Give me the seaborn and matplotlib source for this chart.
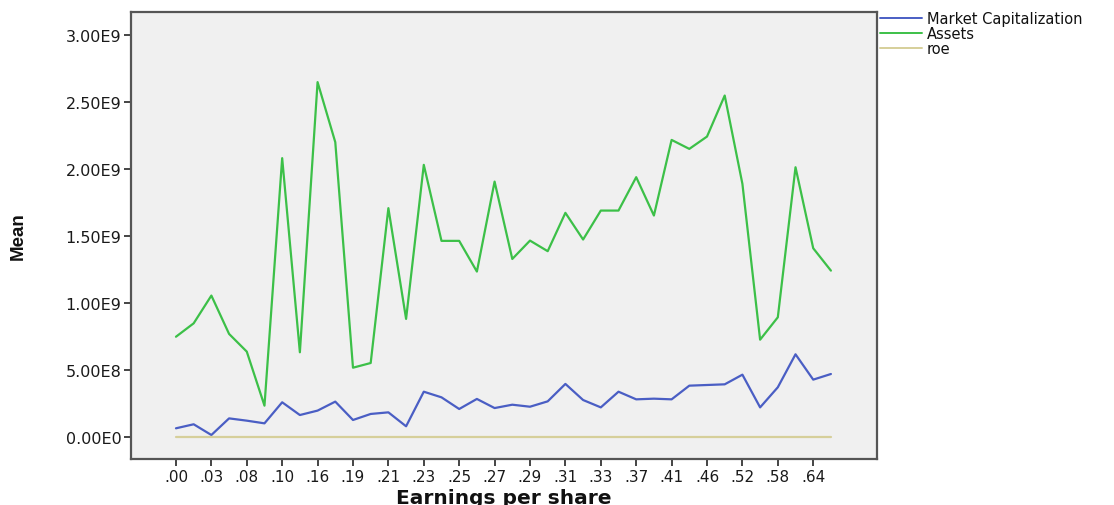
import matplotlib
matplotlib.use("Agg")
import matplotlib.pyplot as plt
import seaborn as sns
import pandas as pd

# Earnings-per-share categories (every other one is labelled on the axis)
eps = [".00", ".01", ".03", ".06", ".08", ".09", ".10", ".13", ".16", ".17",
       ".19", ".20", ".21", ".22", ".23", ".24", ".25", ".26", ".27", ".28",
       ".29", ".30", ".31", ".32", ".33", ".35", ".37", ".39", ".41", ".44",
       ".46", ".50", ".52", ".55", ".58", ".61", ".64", ".66"]

market_cap = [0.065, 0.095, 0.015, 0.139, 0.122, 0.102, 0.259, 0.164, 0.197, 0.264,
              0.127, 0.172, 0.184, 0.080, 0.338, 0.296, 0.209, 0.284, 0.216, 0.241,
              0.226, 0.266, 0.396, 0.276, 0.221, 0.338, 0.281, 0.286, 0.281, 0.383,
              0.388, 0.393, 0.465, 0.221, 0.371, 0.617, 0.428, 0.470]  # x 1e9

assets = [0.748, 0.848, 1.055, 0.769, 0.637, 0.234, 2.080, 0.632, 2.647, 2.199,
          0.517, 0.552, 1.707, 0.881, 2.030, 1.463, 1.463, 1.234, 1.905, 1.328,
          1.465, 1.386, 1.672, 1.473, 1.689, 1.689, 1.938, 1.652, 2.216, 2.149,
          2.241, 2.547, 1.888, 0.726, 0.893, 2.012, 1.408, 1.241]  # x 1e9

roe = [0.0] * len(eps)

series_names = ["Market Capitalization", "Assets", "roe"]
series_colors = ["#4a5ec4", "#3cc048", "#d6cf9a"]

y_ticks = [0.0, 0.5e9, 1.0e9, 1.5e9, 2.0e9, 2.5e9, 3.0e9]
y_tick_labels = ["0.00E0", "5.00E8", "1.00E9", "1.50E9", "2.00E9", "2.50E9", "3.00E9"]

n = len(eps)
df = pd.DataFrame({
    "idx": list(range(n)) * 3,
    "value": [v * 1e9 for v in market_cap] + [v * 1e9 for v in assets] + roe,
    "series": [series_names[0]] * n + [series_names[1]] * n + [series_names[2]] * n,
})

sns.set_theme(style="white")
plt.rcParams["font.family"] = ["DejaVu Sans"]

fig = plt.figure(figsize=(11.14, 5.06), dpi=100)
ax = fig.add_axes([0.1176, 0.0909, 0.6696, 0.8834])
ax.set_facecolor("#f0f0f0")

sns.lineplot(data=df, x="idx", y="value", hue="series", hue_order=series_names,
             palette=series_colors, linewidth=1.6, ax=ax, legend=False)

ax.set_xlim(-2.54, 39.6)
ax.set_ylim(-0.164e9, 3.17e9)

ax.set_xticks(list(range(0, n, 2)))
ax.set_xticklabels(eps[0::2], fontsize=11, color="#1a1a1a")
ax.set_yticks(y_ticks)
ax.set_yticklabels(y_tick_labels, fontsize=11.5, color="#1a1a1a")

ax.tick_params(axis="both", direction="out", length=5, width=1.4, color="#444444",
               bottom=True, left=True, pad=2)

for side in ["left", "right", "top", "bottom"]:
    ax.spines[side].set_visible(True)
    ax.spines[side].set_color("#555555")
    ax.spines[side].set_linewidth(1.6)

ax.set_xlabel("Earnings per share", fontsize=14.5, fontweight="bold", color="#111111")
ax.xaxis.set_label_coords(0.5, -0.064)
ax.set_ylabel("Mean", fontsize=13.5, fontweight="bold", color="#111111",
              family=["Liberation Sans Narrow", "Liberation Sans", "DejaVu Sans"])
ax.yaxis.set_label_coords(-0.14, 0.5)

# Legend outside the plot area, upper right
handles = [plt.Line2D([0], [0], color=c, lw=1.4) for c in series_colors]
fig.legend(handles, series_names, loc="upper left", bbox_to_anchor=(0.790, 0.976),
           frameon=False, fontsize=10.5, handlelength=2.9, handletextpad=0.3,
           labelspacing=0.0, borderaxespad=0.0, borderpad=0.0,
           labelcolor="#111111")

fig.savefig("out.png", dpi=100, facecolor="white")
